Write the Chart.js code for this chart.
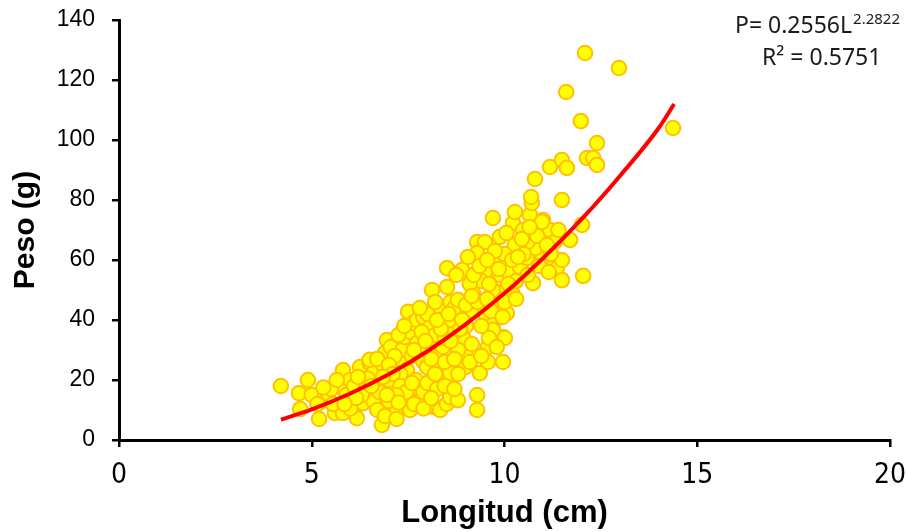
<!DOCTYPE html>
<html>
<head>
<meta charset="utf-8">
<title>Peso vs Longitud</title>
<script src="https://cdn.jsdelivr.net/npm/chart.js@4"></script>
<style>
  body { margin: 0; background: #fff; }
  canvas { display: block; }
</style>
</head>
<body>
<canvas id="chart" width="907" height="532"></canvas>
<script>
// longitud (cm) and peso (g) of each fish
const longitud = [
  4.2, 4.67, 4.9, 4.7, 5.0, 5.19, 5.29, 5.42, 5.6, 5.81, 5.73, 5.81, 5.99, 6.17, 6.07, 6.33, 6.25, 6.5, 6.59, 6.82,
  5.5, 5.55, 5.9, 6.1, 6.4, 6.45, 6.2, 6.6, 6.7, 6.75, 5.3, 5.15, 6.0,
  6.9, 6.5, 6.95, 7.05, 7.08, 7.1, 7.2, 7.0, 7.2, 7.3, 7.35, 7.42, 7.47, 7.5, 7.55, 7.63, 7.73, 7.73,
  7.6, 7.68, 7.81, 7.7, 7.9, 7.99, 7.89, 8.07, 8.15, 8.12, 8.0, 8.05, 8.2, 8.33, 8.38, 8.51, 8.64, 8.72,
  8.33, 8.59, 8.3, 8.4, 8.45, 8.12, 8.51, 8.51, 8.6, 8.2, 8.0, 7.3, 7.4, 7.55, 7.0, 6.9, 7.2, 7.9,
  8.0, 8.2, 8.25, 8.5, 8.45, 7.85, 7.25, 7.15, 6.85, 6.7, 7.0, 7.1, 7.3, 7.45, 7.6, 7.2,
  8.98, 8.98, 8.59, 8.79, 9.29, 9.29, 9.36, 9.57, 9.57, 9.96, 9.96, 10.06, 8.92, 9.7, 8.85, 9.18, 9.49, 9.7,
  10.01, 9.6, 9.0, 8.7, 8.79, 9.18, 9.7, 10.06, 10.2, 8.9, 8.75, 9.29, 9.49, 9.29, 9.7, 9.49, 9.88,
  9.4, 9.6, 9.9, 9.1, 9.0, 9.3, 9.4, 9.15, 8.8, 8.7, 8.6, 9.8, 10.0, 9.55, 10.1, 10.3, 10.4, 10.27,
  10.22, 9.7, 10.27, 10.48, 10.0, 9.75, 10.2,
  10.66, 10.71, 11.0, 11.18, 10.58, 10.74, 11.0, 11.36, 11.49, 11.49, 11.7, 12.04, 10.97, 12.01, 11.49,
  10.69, 10.79, 11.18, 11.49, 11.62, 12.14, 12.3, 12.4, 12.4, 11.98, 11.6, 12.09, 12.97, 14.37,
  10.6, 10.9, 10.8, 11.2, 10.6, 11.3, 10.5,
  7.4, 7.8, 8.1, 8.35, 8.6, 8.7, 8.85, 7.65, 7.95, 8.25, 8.55, 8.9,
  9.2, 9.35, 9.55, 9.85, 10.1, 10.3, 9.65, 9.95, 10.35, 10.45, 9.05, 9.15, 10.05,
  10.85, 11.1, 11.4, 10.65, 11.15,
  5.65, 6.3, 6.55, 6.85, 6.15, 5.85, 6.95, 7.25, 7.65, 7.9, 8.1, 8.45, 8.7, 8.8, 9.1, 9.4, 9.8
];
const peso = [
  18, 15.6, 20, 10.3, 15, 7, 13.3, 15.6, 9, 9, 17.7, 23.3, 20, 7.3, 12.7, 12.3, 24.3, 25.7, 22.3, 5,
  17, 12, 15, 18, 17, 20.5, 21, 13, 10, 16, 17.5, 12, 10.5,
  29, 26.7, 33.3, 31, 17.3, 10.7, 10, 20, 24, 27, 30, 34.3, 23.3, 42.7, 36, 39, 32.3, 40,
  28, 14.3, 13.3, 20, 26, 24.3, 41, 37.7, 11, 11.7, 30, 33, 35, 44, 40, 20, 14.3, 39,
  10, 22.3, 28, 31, 34, 50, 51, 57.3, 46, 46, 42, 22, 12, 10, 13, 8, 7, 16,
  19, 22, 17, 12, 26, 36, 35, 28, 25, 27, 25, 22, 18, 16, 19, 15,
  29, 24.3, 14.3, 13.3, 15, 10, 22.3, 31, 26, 26, 34.3, 42.3, 34.3, 39, 42.3, 43, 42.3, 36.7,
  34, 34, 38, 44, 46.7, 49, 50, 50.7, 49, 56.7, 55, 66, 66, 62.3, 59.3, 56, 67.7,
  53, 52, 55, 52, 45, 46, 38, 32, 30, 36, 40, 45, 46, 47, 56, 53, 57.7, 65,
  72.3, 74, 76, 70, 62, 63, 60,
  75, 79, 73.3, 70, 60.7, 52.3, 60.7, 57.3, 53.3, 60, 66.7, 54.7, 72.7, 71.7, 80,
  81, 87, 91, 93.3, 90.7, 94, 94, 91.7, 99, 106.3, 116, 129, 124, 104,
  55, 58, 64, 62, 66, 66, 62,
  38, 44, 27, 37, 33, 27, 37, 30, 33, 40, 42, 40,
  55, 58, 60, 57, 52, 47, 43, 41, 61, 67, 61, 48, 69,
  68, 65, 70, 71, 56,
  20, 15, 18, 21, 14, 12, 15, 12.5, 12, 10.5, 14, 18, 17, 22, 26, 28, 31
];

// potential trendline as it runs across the plot
const trendL = [4.2, 5, 6, 7, 8, 9, 10, 11, 12, 13, 14, 14.4];
const trendP = [6.8, 10.2, 15.5, 21.9, 29.6, 38.6, 48.9, 60.6, 73.6, 88.1, 104, 112];

const xTicks = [0, 5, 10, 15, 20];
const yTicks = [0, 20, 40, 60, 80, 100, 120, 140];

const scatterPts = longitud.map((l, i) => ({ x: l, y: peso[i] }));
const trendPts = trendL.map((l, i) => ({ x: l, y: trendP[i] }));

// equation box in the top right corner
const equationPlugin = {
  id: 'equation',
  afterDraw(chart) {
    const ctx = chart.ctx;
    ctx.save();
    ctx.fillStyle = '#1a1a1a';
    ctx.textBaseline = 'alphabetic';
    ctx.textAlign = 'left';
    ctx.font = '23px "Noto Sans"';
    ctx.fillText('P= 0.2556L', 735, 33);
    const w = ctx.measureText('P= 0.2556L').width;
    ctx.font = '15px "Noto Sans"';
    ctx.fillText('2.2822', 735 + w + 1, 24);
    ctx.font = '23px "Noto Sans"';
    ctx.fillText('R\u00B2 = 0.5751', 762, 65);
    ctx.restore();
  }
};

new Chart(document.getElementById('chart'), {
  type: 'scatter',
  data: {
    datasets: [
      {
        label: 'Tendencia',
        data: trendPts,
        showLine: true,
        borderColor: '#ff0000',
        borderWidth: 4,
        pointRadius: 0,
        cubicInterpolationMode: 'monotone',
        fill: false
      },
      {
        label: 'Peso',
        data: scatterPts,
        backgroundColor: '#ffff00',
        borderColor: '#ffc000',
        borderWidth: 2,
        pointRadius: 7.3
      }
    ]
  },
  options: {
    responsive: false,
    animation: false,
    devicePixelRatio: 1,
    layout: { padding: { top: 20, right: 17, left: 0, bottom: 0 } },
    plugins: {
      legend: { display: false },
      tooltip: { enabled: false }
    },
    scales: {
      x: {
        type: 'linear',
        min: 0,
        max: 20,
        afterBuildTicks: (axis) => { axis.ticks = xTicks.map(v => ({ value: v })); },
        afterFit: (axis) => {
          axis.height = 92;
          axis.paddingLeft = 0;
          axis.paddingRight = 0;
        },
        grid: { drawOnChartArea: false, drawTicks: true, tickLength: 7, color: '#000', lineWidth: 2.5 },
        border: { display: true, color: '#000', width: 3 },
        ticks: {
          color: '#000',
          padding: 12,
          font: { family: "'Liberation Sans Narrow', 'DejaVu Sans Condensed', sans-serif", size: 28 }
        },
        title: {
          display: true,
          text: 'Longitud (cm)',
          color: '#000',
          font: { family: 'Liberation Sans', size: 31, weight: 'bold' },
          padding: { top: 0, bottom: 0 }
        }
      },
      y: {
        type: 'linear',
        min: 0,
        max: 140,
        afterBuildTicks: (axis) => { axis.ticks = yTicks.map(v => ({ value: v })); },
        afterFit: (axis) => {
          axis.width = 119;
          axis.paddingTop = 0;
          axis.paddingBottom = 0;
        },
        grid: { drawOnChartArea: false, drawTicks: true, tickLength: 7, color: '#000', lineWidth: 2.5 },
        border: { display: true, color: '#000', width: 3 },
        ticks: { color: '#000', padding: 17, font: { family: 'Liberation Sans', size: 23 } },
        title: {
          display: true,
          text: 'Peso (g)',
          color: '#000',
          font: { family: 'Liberation Sans', size: 30, weight: 'bold' },
          padding: { top: 8, bottom: 0 }
        }
      }
    }
  },
  plugins: [equationPlugin]
});
</script>
</body>
</html>
